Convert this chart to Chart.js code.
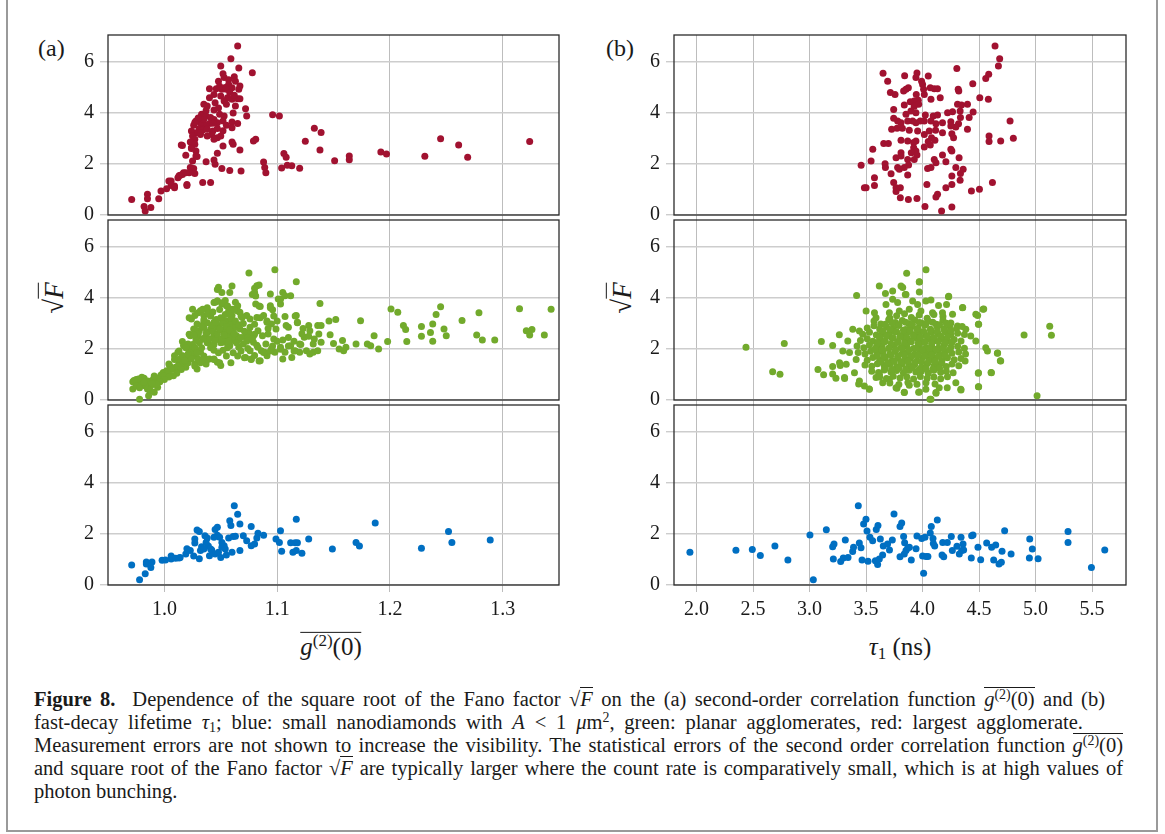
<!DOCTYPE html>
<html>
<head>
<meta charset="utf-8">
<script src="https://cdn.jsdelivr.net/npm/chart.js@4.4.1/dist/chart.umd.min.js"></script>
<style>
    html, body { margin: 0; padding: 0; background: #fff; }
    #page { position: relative; width: 1165px; height: 834px; overflow: hidden; font-family: "Liberation Serif", serif; color: #1a1a1a; }
    #frame { position: absolute; left: 6px; top: -4px; width: 1152px; height: 836px; border: 2px solid #9a9a9a; box-sizing: border-box; }
    canvas { position: absolute; }
    .lbl { position: absolute; white-space: nowrap; line-height: 1; }
    .panel-tag { font-size: 24px; }
    .ytitle { font-size: 27px; transform: translate(-50%, -50%) rotate(-90deg); }
    .xtitle { font-size: 25px; transform: translate(-50%, -50%); }
    .ov { display: inline-block; border-top: 1.3px solid #1a1a1a; padding-top: 1px; line-height: 1.05; }
    sup { font-size: 0.68em; line-height: 0; vertical-align: 0.5em; }
    sub { font-size: 0.68em; line-height: 0; vertical-align: -0.25em; }
    #caption { position: absolute; left: 34px; top: 687px; font-size: 20.5px; line-height: 22px; }
    #caption div { white-space: nowrap; text-align: justify; text-align-last: justify; }
    #caption div.end { text-align-last: left; }
</style>
</head>
<body>
<div id="page">
    <div id="frame"></div>

    <div class="lbl panel-tag" style="left:38px; top:36px;">(a)</div>
    <div class="lbl panel-tag" style="left:606px; top:36px;">(b)</div>

    <div class="lbl ytitle" style="left:53px; top:298px;">√<span class="ov"><i>F</i></span></div>
    <div class="lbl ytitle" style="left:621px; top:298px;">√<span class="ov"><i>F</i></span></div>

    <div class="lbl xtitle" style="left:331px; top:646px;"><span class="ov"><i>g</i><sup>(2)</sup>(0)</span></div>
    <div class="lbl xtitle" style="left:900px; top:646px;"><i>τ</i><sub>1</sub> (ns)</div>

    <div id="caption">
        <div style="width:1071px"><b>Figure 8.</b>&nbsp; Dependence of the square root of the Fano factor √<span class="ov"><i>F</i></span> on the (a) second-order correlation function <span class="ov"><i>g</i><sup>(2)</sup>(0)</span> and (b)</div>
        <div style="width:1049px">fast-decay lifetime <i>τ</i><sub>1</sub>; blue: small nanodiamonds with <i>A</i> &lt; 1 <i>μ</i>m<sup>2</sup>, green: planar agglomerates, red: largest agglomerate.</div>
        <div style="width:1089px">Measurement errors are not shown to increase the visibility. The statistical errors of the second order correlation function <span class="ov"><i>g</i><sup>(2)</sup>(0)</span></div>
        <div style="width:1089px">and square root of the Fano factor √<span class="ov"><i>F</i></span> are typically larger where the count rate is comparatively small, which is at high values of</div>
        <div class="end">photon bunching.</div>
    </div>
</div>

<script>
// ========== DATA ==========
// tick labels
const g2Ticks = [1.0, 1.1, 1.2, 1.3];
const tauTicks = [2.0, 2.5, 3.0, 3.5, 4.0, 4.5, 5.0, 5.5];
const fanoTicks = [0, 2, 4, 6];

// red: largest agglomerate  [g2(0), sqrt(F)]
const redG2 = [
    [1.065,6.63],[1.059,6.13],[1.066,5.76],[1.078,5.58],[1.050,5.84],
    [1.052,5.54],[1.053,5.39],[1.048,5.25],[1.062,5.42],[1.063,5.25],[1.057,5.12],[1.060,4.99],[1.066,4.93],[1.067,5.06],
    [1.055,4.93],[1.051,4.93],[1.046,4.95],[1.040,4.95],[1.044,4.73],[1.050,4.67],[1.056,4.60],[1.060,4.54],[1.065,4.56],
    [1.067,4.56],[1.053,4.47],[1.055,4.34],[1.063,4.27],[1.072,4.17],[1.073,3.88],[1.035,4.34],[1.038,4.27],[1.033,3.95],
    [1.037,3.88],[1.041,3.82],[1.044,4.12],[1.049,3.95],[1.053,3.88],[1.044,3.75],[1.047,3.62],[1.052,3.69],[1.055,3.52],
    [1.040,3.59],[1.036,3.52],[1.032,3.62],[1.028,3.69],[1.026,3.52],[1.031,3.39],[1.034,3.33],[1.038,3.36],[1.043,3.29],
    [1.047,3.39],[1.042,3.16],[1.038,3.10],[1.032,3.16],[1.028,3.23],[1.024,3.29],[1.025,3.10],[1.050,3.10],[1.047,3.03],
    [1.060,3.65],[1.065,3.59],[1.060,3.42],[1.044,2.97],[1.052,2.71],[1.060,2.86],[1.061,2.77],[1.067,2.55],[1.027,2.97],
    [1.023,2.86],[1.027,2.77],[1.024,2.64],[1.015,2.75],[1.028,2.51],[1.019,2.34],[1.028,2.31],[1.025,2.12],[1.047,2.42],
    [1.044,2.16],[1.037,2.09],[1.045,1.99],[1.023,1.86],[1.026,1.82],[1.027,1.63],[1.022,1.66],[1.017,1.66],[1.014,1.56],
    [1.012,1.46],[1.020,1.16],[1.004,1.33],[1.006,1.16],[1.002,1.03],[0.997,0.94],[1.009,1.14],[1.034,1.27],[1.041,1.27],
    [1.051,1.82],[1.058,1.75],[1.068,1.73],[1.081,2.97],[1.079,2.90],[1.089,1.86],[1.088,2.08],[1.090,1.66],[0.971,0.61],
    [0.985,0.81],[0.985,0.64],[0.982,0.33],[0.983,0.16],[0.988,0.29],[0.995,0.64],
    [1.096,3.93],[1.102,3.88],[1.104,1.84],[1.106,2.41],[1.108,2.26],[1.109,1.95],[1.113,1.93],[1.120,1.83],[1.125,2.89],
    [1.133,3.40],[1.139,3.24],[1.138,2.55],[1.151,2.13],[1.164,2.31],[1.164,2.17],[1.192,2.47],[1.197,2.39],[1.231,2.30],
    [1.245,2.99],[1.261,2.75],[1.269,2.26],[1.324,2.88],
    [1.045,4.40],[1.048,4.20],[1.058,4.80],[1.062,4.70],[1.054,5.00],[1.049,5.05],[1.057,5.30],[1.040,4.60],[1.037,4.10],
    [1.043,3.60],[1.035,3.75],[1.030,3.80],[1.061,4.00],[1.052,3.30],[1.029,2.29],[1.027,3.63],[1.032,3.22],[1.016,2.73],
    [1.024,2.61],[1.006,1.33],[1.013,1.54],[1.016,1.59],[1.019,1.66],[1.020,1.20],[1.009,1.07]
];

// red: largest agglomerate  [tau1 (ns), sqrt(F)]
const redTau = [
    [4.641,6.63],[4.682,6.13],[4.671,5.84],[4.585,5.52],[4.559,5.35],[4.444,5.15],[4.303,5.75],[4.315,4.93],[4.320,4.86],
    [4.506,4.60],[4.582,4.54],[3.650,5.56],[3.691,5.25],[3.841,5.46],[3.950,5.57],[3.941,5.39],[4.050,5.45],[3.991,5.25],
    [4.000,5.12],[4.103,4.95],[4.132,4.95],[4.068,4.99],[4.009,4.93],[3.853,4.93],[3.874,4.99],[3.832,4.86],[3.715,4.80],
    [3.756,4.73],[3.944,4.73],[4.015,4.73],[4.156,4.60],[4.074,4.54],[3.962,4.50],[3.926,4.47],[3.891,4.44],[3.838,4.31],
    [3.965,4.34],[3.926,4.26],[3.744,4.14],[3.853,3.95],[3.897,4.08],[3.941,4.01],[4.024,3.92],[4.094,3.88],[4.132,3.92],
    [4.221,4.01],[4.265,4.05],[4.309,4.34],[4.344,4.31],[4.397,4.34],[4.332,4.08],[4.447,4.04],[4.412,3.82],[4.335,3.82],
    [4.318,3.58],[4.294,3.45],[4.250,3.66],[4.176,3.62],[4.118,3.58],[4.074,3.69],[4.015,3.69],[3.979,3.69],[3.941,3.62],
    [3.912,3.69],[3.868,3.69],[3.809,3.62],[3.779,3.69],[3.744,3.79],[3.726,3.36],[3.774,3.40],[3.821,3.40],[3.882,3.32],
    [3.956,3.29],[4.015,3.16],[4.059,3.29],[4.115,3.32],[4.176,3.23],[4.250,3.49],[4.259,3.19],[4.397,3.36],[4.274,3.03],
    [4.079,3.03],[4.109,2.93],[4.050,2.88],[4.068,2.75],[4.015,2.67],[3.941,2.90],[3.921,2.84],[3.868,2.90],[3.809,2.93],
    [3.921,2.64],[3.941,2.51],[3.900,2.44],[3.950,2.35],[3.926,2.18],[3.809,2.44],[3.809,2.31],[3.765,2.25],[3.868,2.18],
    [3.876,1.96],[3.838,1.86],[3.794,1.79],[3.779,1.86],[3.868,1.57],[3.721,1.62],[3.656,2.80],[3.697,2.80],[3.559,2.58],
    [3.544,2.12],[3.456,1.95],[3.668,2.01],[3.671,1.86],[3.574,1.46],[3.574,1.16],[3.485,1.07],[3.500,1.07],[3.744,1.27],
    [3.765,1.07],[3.803,1.07],[3.765,0.92],[3.803,0.68],[3.874,0.61],[3.950,0.65],[4.021,0.33],[4.168,0.16],[4.259,0.31],
    [4.038,1.20],[4.044,1.82],[4.074,1.86],[4.103,2.18],[4.118,2.05],[4.176,2.35],[4.250,2.58],[4.259,2.51],[4.206,2.09],
    [4.294,1.86],[4.323,2.25],[4.335,1.63],[4.259,1.53],[4.332,1.36],[4.259,1.20],[4.206,1.07],[4.132,0.81],[4.118,0.71],
    [4.432,0.94],[4.503,1.01],[4.618,1.27],[4.359,1.79],[4.588,3.10],[4.588,2.88],[4.691,2.90],[4.774,3.69],[4.803,3.01]
];

// green: planar agglomerates  [g2(0), sqrt(F)]
const greenG2 = [
    [0.978,0.03],[0.972,0.72],[0.972,0.43],[0.976,0.63],[0.975,0.80],[0.979,0.72],[0.982,0.85],[0.984,0.59],[0.986,0.17],
    [0.987,0.37],[0.988,0.56],[0.989,0.76],[0.991,0.89],[0.992,0.69],[0.994,0.82],[0.994,0.50],[0.996,0.89],[0.997,0.98],
    [0.991,0.30],[0.985,0.43],[0.980,0.89],[0.977,0.82],[0.973,0.76],[0.999,1.08],[1.002,1.15],[1.005,1.32],[1.004,1.41],
    [1.007,1.22],[1.010,1.28],[1.013,1.48],[1.009,1.74],[1.012,1.87],[1.014,1.61],[1.016,1.74],[1.016,1.41],[1.019,1.28],
    [1.020,1.48],[1.021,1.67],[1.022,1.93],[1.024,2.07],[1.026,1.74],[1.027,1.41],[1.029,1.22],[1.030,1.61],[1.032,1.87],
    [1.016,2.29],[1.017,2.13],[1.021,2.20],[1.023,2.52],[1.024,3.18],[1.026,2.78],[1.027,3.31],[1.029,2.98],[1.031,2.72],
    [1.032,3.50],[1.035,3.31],[1.038,3.57],[1.035,3.05],[1.038,2.65],[1.039,2.26],[1.037,1.41],[1.040,1.61],[1.044,1.61],
    [1.047,1.48],[1.050,1.35],[1.045,3.83],[1.047,3.88],[1.047,4.33],[1.048,4.42],[1.051,4.22],[1.054,3.90],[1.051,3.76],
    [1.055,3.70],[1.058,4.22],[1.060,4.47],[1.057,3.50],[1.060,3.31],[1.063,3.83],[1.065,3.70],[1.067,3.44],[1.069,3.24],
    [1.041,3.31],[1.044,3.05],[1.048,2.92],[1.051,3.18],[1.054,2.78],[1.057,3.05],[1.060,2.65],[1.063,2.92],[1.064,2.52],
    [1.067,2.78],[1.055,2.52],[1.053,2.26],[1.048,2.39],[1.044,2.52],[1.058,2.13],[1.061,2.33],[1.066,2.07],[1.070,2.20],
    [1.072,2.52],[1.075,4.98],[1.080,4.38],[1.082,4.48],[1.084,4.51],[1.078,4.14],[1.080,4.22],[1.094,4.16],[1.098,5.11],
    [1.117,4.64],[1.105,4.22],[1.107,4.09],[1.112,4.09],[1.101,3.96],[1.103,3.76],[1.081,3.76],[1.085,3.67],[1.094,3.70],
    [1.096,3.54],[1.073,3.31],[1.076,3.18],[1.082,3.24],[1.088,3.31],[1.091,3.05],[1.095,2.98],[1.099,2.78],[1.107,3.27],
    [1.108,2.92],[1.117,3.31],[1.118,3.05],[1.075,2.65],[1.079,2.52],[1.083,2.72],[1.087,2.52],[1.092,2.59],[1.097,2.39],
    [1.079,2.26],[1.083,2.07],[1.086,1.93],[1.076,1.93],[1.072,1.67],[1.077,1.61],[1.085,1.54],[1.091,1.74],[1.089,1.87],
    [1.095,2.00],[1.098,1.87],[1.103,2.07],[1.105,1.61],[1.107,1.87],[1.112,2.13],[1.113,1.67],[1.116,1.93],[1.120,2.20],
    [1.124,2.46],[1.120,1.87],[1.126,1.93],[1.129,1.80],[1.132,1.87],[1.136,1.93],[1.128,2.92],[1.129,2.72],[1.133,2.39],
    [1.132,2.20],[1.136,2.92],[1.139,2.92],[1.138,3.78],[1.137,2.59],[1.139,2.26],[1.147,2.56],[1.150,2.22],[1.146,3.10],
    [1.152,3.16],[1.155,2.00],[1.158,2.33],[1.159,1.93],[1.161,2.07],[1.170,2.20],[1.174,3.11],[1.180,2.20],[1.183,2.13],
    [1.186,2.52],[1.190,2.00],[1.198,2.29],[1.201,3.57],[1.207,3.44],[1.212,2.92],[1.214,2.76],[1.215,2.29],[1.228,2.88],
    [1.228,2.50],[1.236,2.65],[1.238,2.98],[1.238,2.30],[1.241,3.35],[1.245,3.66],[1.248,2.78],[1.250,2.52],[1.264,3.12],
    [1.277,2.55],[1.279,3.42],[1.282,2.35],[1.293,2.35],[1.315,3.58],[1.321,2.72],[1.326,2.76],[1.324,2.55],[1.337,2.55],
    [1.343,3.56],
    [1.022,3.23],[1.025,3.56],[1.030,3.42],[1.034,3.56],[1.038,3.62],[1.044,3.82],[1.047,3.88],[1.052,3.82],[1.056,3.69],
    [1.060,3.56],[1.065,3.49],[1.068,3.29],[1.041,3.29],[1.046,3.16],[1.050,3.23],[1.055,3.10],[1.059,2.97],[1.063,2.84],
    [1.038,3.03],[1.035,2.84],[1.041,2.77],[1.047,2.84],[1.052,2.71],[1.056,2.58],[1.060,2.44],[1.066,2.38],[1.074,2.44],
    [1.080,2.58],[1.027,2.77],[1.022,2.58],[1.030,2.51],[1.034,2.38],[1.038,2.25],[1.044,2.18],[1.050,2.25],[1.056,2.05],
    [1.025,2.18],[1.019,2.05],[1.024,1.86],[1.030,1.92],[1.035,1.73],[1.032,1.46],[1.027,1.33],[1.021,1.46],[1.016,1.73],
    [1.013,1.92],[1.009,1.59],[1.012,1.33],[1.006,1.20],[1.003,1.07],[0.999,0.94],[0.994,0.81],[0.991,0.94],[0.985,0.75],
    [1.038,1.59],[1.044,1.59],[1.049,1.46],[1.055,1.73],[1.059,1.46],[1.065,1.73],[1.071,1.66],[1.077,1.59],[1.084,1.53],
    [1.088,1.86],[1.094,1.92],[1.103,1.99],[1.110,2.12],[1.115,1.92],[1.121,2.18],[1.080,2.97],[1.085,3.23],[1.091,3.10],
    [1.097,3.29],[1.084,3.69],[1.094,3.62],[1.081,4.08],[1.103,3.95],[1.116,3.29],[1.118,3.03],
    [1.018,1.55],[1.021,1.80],[1.024,1.62],[1.027,2.05],[1.029,1.85],[1.031,2.25],[1.033,2.05],[1.034,1.58],[1.036,2.45],
    [1.037,2.62],[1.040,2.40],[1.041,2.05],[1.042,2.92],[1.043,2.68],[1.045,2.35],[1.046,3.05],[1.047,2.58],[1.049,2.78],
    [1.051,2.40],[1.052,3.00],[1.053,2.55],[1.055,2.88],[1.057,2.30],[1.058,2.75],[1.059,3.20],[1.062,2.60],[1.063,3.10],
    [1.064,2.25],[1.066,2.95],[1.068,2.45],[1.070,3.00],[1.071,2.70],[1.073,2.30],[1.076,2.85],[1.078,2.40],[1.033,2.90],
    [1.030,2.60],[1.028,2.35],[1.026,2.55],[1.035,3.15],[1.039,3.40],[1.043,3.45],[1.049,3.55],[1.054,3.35],[1.058,3.40],
    [1.062,3.55],[1.015,1.20],[1.011,1.05],[1.008,0.95],[1.004,0.90],[1.000,0.80],[0.996,0.72],[0.993,0.62],[0.989,0.65],
    [0.983,0.55],[0.980,0.60],[0.975,0.55],[0.978,0.48],[0.982,0.70],[1.044,1.95],[1.048,1.85],[1.052,1.95],[1.061,1.85],
    [1.068,1.92],[1.074,2.02],[1.080,1.75],[1.082,2.15],[1.090,2.20],[1.096,2.12],[1.100,2.30],[1.105,2.35],[1.110,2.45],
    [1.115,2.30],[1.122,2.60],[1.128,2.50],[1.092,2.80],[1.100,3.10],[1.110,2.85],[1.123,2.80]
];

// green: planar agglomerates  [tau1 (ns), sqrt(F)]
const greenTau = [
    [2.437,2.07],[2.673,1.11],[2.738,1.01],[2.776,2.22],[3.104,2.29],[3.074,1.20],[3.124,0.99],[3.204,1.31],[3.204,2.14],
    [3.204,1.02],[3.233,0.85],[3.263,2.56],[3.310,0.84],[3.271,1.35],[3.416,4.10],[3.617,4.47],[3.859,4.97],[4.030,5.11],
    [3.971,4.64],[3.847,4.14],[4.231,4.07],[4.355,3.63],[4.541,3.57],[4.487,3.31],[4.496,2.97],[4.898,2.55],[5.125,2.89],
    [5.140,2.54],[5.013,0.17],[4.065,0.03],[4.664,1.84],[4.688,1.54],[4.606,1.08],[4.493,1.05],[4.496,0.52],[4.340,0.39],
    [4.119,0.26],[3.965,0.30],[3.838,0.30],[3.773,0.46],[3.528,0.43],[3.434,0.63],
    [3.671,4.18],[3.735,4.27],[3.809,4.47],[3.824,4.41],[3.971,4.63],[3.971,4.24],[3.853,4.14],[3.735,3.95],[3.676,3.75],
    [3.779,3.82],[3.912,3.88],[3.956,3.75],[4.029,3.88],[4.074,3.92],[4.141,3.71],[4.229,4.05],[4.212,3.75],[4.353,3.62],
    [4.535,3.56],[4.471,3.36],[4.494,2.97],[3.500,3.49],[3.574,3.42],[3.588,3.23],[3.706,3.42],[3.794,3.49],[3.882,3.56],
    [3.985,3.49],[4.088,3.42],[4.176,3.42],[4.265,3.36],[4.309,2.90],[4.382,2.77],[4.426,2.51],[4.471,2.31],[3.382,2.77],
    [3.441,2.71],[3.338,2.31],[3.294,1.92],[3.353,1.86],[3.412,1.59],[3.265,1.46],[3.324,1.40],[3.397,1.07],[3.309,0.88],
    [3.441,0.75],[3.485,0.55],[3.529,0.42],[3.588,0.88],[3.618,1.01],[3.647,0.68],[3.706,0.81],[3.765,0.48],[3.838,0.29],
    [3.882,0.58],[3.971,0.31],[4.029,0.42],[4.074,0.03],[4.118,0.29],[4.147,0.48],[4.218,0.48],[4.294,0.68],[4.338,0.42],
    [4.376,1.53],[4.494,1.07],[4.494,0.52],[4.609,1.07],[4.662,1.83],[4.691,1.53],[4.559,2.05],[4.574,1.92],
    [3.71,3.22],[3.77,3.30],[3.84,3.38],[3.90,3.24],[3.97,3.33],[4.04,3.21],[4.10,3.35],[4.18,3.27],
    [3.57,3.10],[3.63,2.98],[3.70,3.15],[3.76,3.04],[3.82,3.12],[3.88,2.99],[3.93,3.14],[3.99,3.02],[4.05,3.10],[4.12,2.97],
    [4.18,3.13],[4.25,3.02],
    [3.51,2.82],[3.57,2.91],[3.62,2.78],[3.68,2.87],[3.74,2.80],[3.79,2.92],[3.85,2.76],[3.90,2.88],[3.96,2.81],[4.02,2.93],
    [4.07,2.77],[4.13,2.86],[4.19,2.79],[4.24,2.90],[4.30,2.80],[4.35,2.88],
    [3.47,2.58],[3.53,2.66],[3.59,2.55],[3.64,2.64],[3.70,2.57],[3.75,2.69],[3.81,2.53],[3.86,2.63],[3.92,2.56],[3.97,2.67],
    [4.03,2.54],[4.08,2.65],[4.14,2.58],[4.20,2.68],[4.25,2.55],[4.31,2.62],[4.37,2.57],
    [3.45,2.33],[3.51,2.40],[3.56,2.30],[3.62,2.37],[3.67,2.31],[3.73,2.43],[3.78,2.29],[3.84,2.38],[3.89,2.32],[3.95,2.42],
    [4.00,2.28],[4.06,2.39],[4.11,2.33],[4.17,2.41],[4.22,2.30],[4.28,2.37],[4.34,2.31],
    [3.42,2.12],[3.48,2.05],[3.53,2.16],[3.59,2.07],[3.64,2.13],[3.70,2.03],[3.75,2.15],[3.81,2.06],[3.86,2.12],[3.92,2.02],
    [3.97,2.14],[4.03,2.05],[4.08,2.12],[4.14,2.04],[4.19,2.15],[4.25,2.07],[4.31,2.11],[4.37,2.03],
    [3.43,1.86],[3.49,1.80],[3.54,1.91],[3.60,1.83],[3.65,1.89],[3.71,1.79],[3.76,1.90],[3.82,1.82],[3.87,1.88],[3.93,1.78],
    [3.98,1.91],[4.04,1.81],[4.09,1.87],[4.15,1.79],[4.20,1.90],[4.26,1.83],[4.32,1.88],[4.38,1.80],
    [3.51,1.56],[3.56,1.67],[3.62,1.58],[3.67,1.65],[3.73,1.55],[3.78,1.66],[3.84,1.59],[3.89,1.64],[3.95,1.54],
    [4.00,1.67],[4.06,1.57],[4.11,1.63],[4.17,1.55],[4.22,1.66],[4.28,1.58],[4.34,1.63],
    [3.49,1.37],[3.55,1.32],[3.60,1.42],[3.66,1.34],[3.71,1.40],[3.77,1.30],[3.82,1.41],[3.88,1.35],[3.93,1.39],[3.99,1.29],
    [4.04,1.42],[4.10,1.33],[4.15,1.38],[4.21,1.31],[4.26,1.41],[4.32,1.34],
    [3.55,1.13],[3.61,1.08],[3.66,1.18],[3.72,1.10],[3.77,1.16],[3.83,1.06],[3.88,1.17],[3.94,1.10],[3.99,1.14],[4.05,1.05],
    [4.10,1.17],[4.16,1.09],[4.21,1.13],[4.27,1.07],
    [3.62,0.90],[3.68,0.84],[3.74,0.93],[3.80,0.86],[3.86,0.91],[3.92,0.82],[3.98,0.92],[4.04,0.85],[4.10,0.90],[4.16,0.83],
    [4.22,0.91],
    [3.71,0.67],[3.79,0.61],[3.87,0.69],[3.95,0.62],[4.03,0.68],[4.11,0.63],
    [3.67,2.97],[3.73,3.03],[3.79,2.95],[3.85,3.05],[3.91,2.96],[3.97,3.04],[4.03,2.98],[4.09,3.05],[4.15,2.95],[4.21,3.01],
    [3.65,2.70],[3.71,2.76],[3.77,2.68],[3.83,2.74],[3.89,2.71],[3.95,2.77],[4.01,2.69],[4.07,2.75],[4.13,2.70],[4.19,2.76],
    [4.25,2.72],
    [3.62,2.46],[3.68,2.50],[3.74,2.44],[3.80,2.49],[3.86,2.45],[3.92,2.51],[3.98,2.46],[4.04,2.49],[4.10,2.44],[4.16,2.50],
    [4.22,2.47],
    [3.60,2.24],[3.66,2.27],[3.72,2.21],[3.78,2.26],[3.84,2.23],[3.90,2.28],[3.96,2.22],[4.02,2.26],[4.08,2.23],[4.14,2.28],
    [4.20,2.24],[4.26,2.26],
    [3.58,2.00],[3.64,1.97],[3.70,2.02],[3.76,1.98],[3.82,2.01],[3.88,1.96],[3.94,2.02],[4.00,1.97],[4.06,2.01],[4.12,1.98],
    [4.18,2.02],[4.24,1.97],
    [3.60,1.74],[3.66,1.71],[3.72,1.76],[3.78,1.72],[3.84,1.77],[3.90,1.71],[3.96,1.76],[4.02,1.73],[4.08,1.77],[4.14,1.72],
    [4.20,1.75],
    [3.63,1.50],[3.69,1.46],[3.75,1.51],[3.81,1.47],[3.87,1.52],[3.93,1.46],[3.99,1.51],[4.05,1.48],[4.11,1.52],[4.17,1.47],
    [3.67,1.24],[3.73,1.20],[3.79,1.25],[3.85,1.21],[3.91,1.26],[3.97,1.20],[4.03,1.24],[4.09,1.21],[4.15,1.25]
];

// blue: small nanodiamonds  [g2(0), sqrt(F)]
const blueG2 = [
    [0.971,0.78],[0.978,0.21],[0.983,0.44],[0.984,0.90],[0.984,0.82],[0.988,0.69],[0.989,0.90],[0.998,0.97],[1.001,0.98],
    [1.006,1.14],[1.006,1.02],[1.010,1.05],[1.013,1.06],[1.014,1.08],[1.019,1.22],[1.020,1.42],[1.023,1.35],[1.026,1.14],
    [1.027,1.65],[1.029,2.16],[1.031,2.10],[1.027,1.80],[1.031,1.03],[1.032,1.35],[1.033,1.50],[1.036,1.93],[1.038,1.84],
    [1.039,1.53],[1.037,1.67],[1.040,1.15],[1.042,1.37],[1.045,2.18],[1.047,2.26],[1.047,1.95],[1.049,1.87],[1.045,1.22],
    [1.048,1.28],[1.050,1.08],[1.051,1.48],[1.053,1.54],[1.055,1.18],[1.057,1.84],[1.058,2.52],[1.059,2.33],[1.060,1.28],
    [1.061,1.90],[1.062,3.11],[1.063,1.91],[1.065,2.77],[1.067,1.35],[1.067,2.39],[1.070,1.93],[1.073,1.74],[1.077,2.29],
    [1.077,1.54],[1.080,1.61],[1.082,1.84],[1.083,2.03],[1.088,1.95],[1.099,1.80],[1.102,1.67],[1.103,2.13],[1.104,1.32],
    [1.112,1.66],[1.114,1.28],[1.116,1.66],[1.117,2.58],[1.118,1.66],[1.117,1.35],[1.122,1.25],[1.128,1.80],[1.149,1.41],
    [1.170,1.67],[1.173,1.53],[1.187,2.43],[1.228,1.44],[1.252,2.10],[1.255,1.67],[1.289,1.76],
    [1.044,1.87],[1.041,1.41],[1.035,1.41],[1.051,1.67],[1.054,1.41]
];

// blue: small nanodiamonds  [tau1 (ns), sqrt(F)]
const blueTau = [
    [1.941,1.28],[2.348,1.36],[2.493,1.39],[2.564,1.16],[2.693,1.53],[2.808,0.98],[3.003,1.96],[3.033,0.21],[3.148,2.17],
    [3.204,1.50],[3.216,1.61],[3.210,1.02],[3.275,0.92],[3.298,1.06],[3.316,1.76],[3.340,1.08],[3.381,1.31],[3.389,1.48],
    [3.431,3.11],[3.440,1.65],[3.455,1.46],[3.478,2.39],[3.499,2.58],[3.464,0.98],[3.508,2.12],[3.517,0.93],[3.534,1.87],
    [3.558,1.74],[3.582,0.95],[3.590,2.18],[3.602,0.80],[3.605,2.33],[3.626,1.80],[3.617,1.02],[3.646,1.18],[3.652,1.53],
    [3.690,1.61],[3.707,1.37],[3.732,1.76],[3.747,2.78],[3.800,2.29],[3.815,2.43],[3.800,1.11],[3.832,1.90],[3.841,1.66],
    [3.853,1.35],[3.838,1.22],[3.868,1.44],[3.883,1.48],[3.900,0.98],[3.942,1.42],[3.950,1.92],[3.992,1.82],[4.000,1.14],
    [4.009,0.46],[4.021,1.87],[4.030,1.12],[4.047,1.12],[4.068,2.04],[4.077,2.29],[4.092,1.82],[4.095,1.63],[4.107,1.53],
    [4.130,2.55],[4.172,1.18],[4.187,1.11],[4.178,1.67],[4.219,1.67],[4.254,1.90],[4.263,1.35],[4.304,1.52],[4.325,1.22],
    [4.340,1.87],[4.346,1.35],[4.358,1.61],[4.363,1.37],[4.431,1.06],[4.434,1.93],[4.446,1.96],[4.490,1.48],[4.514,0.99],
    [4.567,1.65],[4.611,1.48],[4.629,0.98],[4.647,1.57],[4.676,0.82],[4.697,0.89],[4.703,1.32],[4.726,2.13],[4.783,1.22],
    [4.948,1.80],[4.971,1.41],[4.945,1.06],[5.022,1.03],[5.287,2.10],[5.287,1.67],[5.494,0.69],[5.612,1.37]
];

// ========== LAYOUT ==========
const RED = 'rgb(161, 18, 48)';
const GREEN = 'rgb(114, 170, 44)';
const BLUE = 'rgb(0, 111, 194)';

const plotLeft = [108, 674];
const plotWidth = [451, 452];
const plotTop = [35, 220, 405];
const plotHeight = 180;
const yAxisW = 68;
const tickFont = { family: 'Liberation Serif', size: 20 };

// draws the black box round each plot area
const framePlugin = {
    id: 'frame',
    beforeDatasetsDraw(chart) {
        const a = chart.chartArea;
        const ctx = chart.ctx;
        ctx.save();
        ctx.strokeStyle = '#2b2b2b';
        ctx.lineWidth = 1.3;
        ctx.strokeRect(a.left, a.top, a.right - a.left, a.bottom - a.top);
        ctx.restore();
    }
};

function makePanel(col, row, points, color) {
    const last = row === 2;
    const xAxisH = last ? 48 : 12;
    const xMin = col === 0 ? 0.95 : 1.8;
    const xMax = col === 0 ? 1.35 : 5.8;
    const xTicks = col === 0 ? g2Ticks : tauTicks;

    const cv = document.createElement('canvas');
    cv.width = yAxisW + plotWidth[col] + 14;
    cv.height = 10 + plotHeight + xAxisH;
    cv.style.left = (plotLeft[col] - yAxisW) + 'px';
    cv.style.top = (plotTop[row] - 10) + 'px';
    document.getElementById('page').appendChild(cv);

    new Chart(cv, {
        type: 'scatter',
        data: {
            datasets: [{
                data: points.map(p => ({ x: p[0], y: p[1] })),
                backgroundColor: color,
                pointRadius: 3.5,
                pointHoverRadius: 3.5,
                pointBorderWidth: 0,
                clip: false
            }]
        },
        options: {
            responsive: false,
            animation: false,
            events: [],
            layout: { padding: { top: 10, right: 14, left: 0, bottom: 0 } },
            plugins: { legend: { display: false }, tooltip: { enabled: false } },
            scales: {
                x: {
                    type: 'linear',
                    min: xMin,
                    max: xMax,
                    afterBuildTicks: axis => { axis.ticks = xTicks.map(v => ({ value: v })); },
                    afterFit: axis => { axis.height = xAxisH; axis.paddingLeft = 0; axis.paddingRight = 0; },
                    border: { display: false },
                    grid: { color: '#bdbdbd', lineWidth: 1, tickLength: 7 },
                    ticks: {
                        display: last,
                        font: tickFont,
                        color: '#1a1a1a',
                        padding: 6,
                        maxRotation: 0,
                        callback: v => v.toFixed(1)
                    }
                },
                y: {
                    type: 'linear',
                    min: 0,
                    max: plotHeight / 25.5,
                    afterBuildTicks: axis => { axis.ticks = fanoTicks.map(v => ({ value: v })); },
                    afterFit: axis => { axis.width = yAxisW; axis.paddingTop = 0; axis.paddingBottom = 0; },
                    border: { display: false },
                    grid: { color: '#cdcdcd', lineWidth: 1.4, tickLength: 8 },
                    ticks: {
                        font: tickFont,
                        color: '#1a1a1a',
                        padding: 6,
                        callback: v => String(v)
                    }
                }
            }
        },
        plugins: [framePlugin]
    });
}

makePanel(0, 0, redG2, RED);
makePanel(0, 1, greenG2, GREEN);
makePanel(0, 2, blueG2, BLUE);
makePanel(1, 0, redTau, RED);
makePanel(1, 1, greenTau, GREEN);
makePanel(1, 2, blueTau, BLUE);
</script>
</body>
</html>
